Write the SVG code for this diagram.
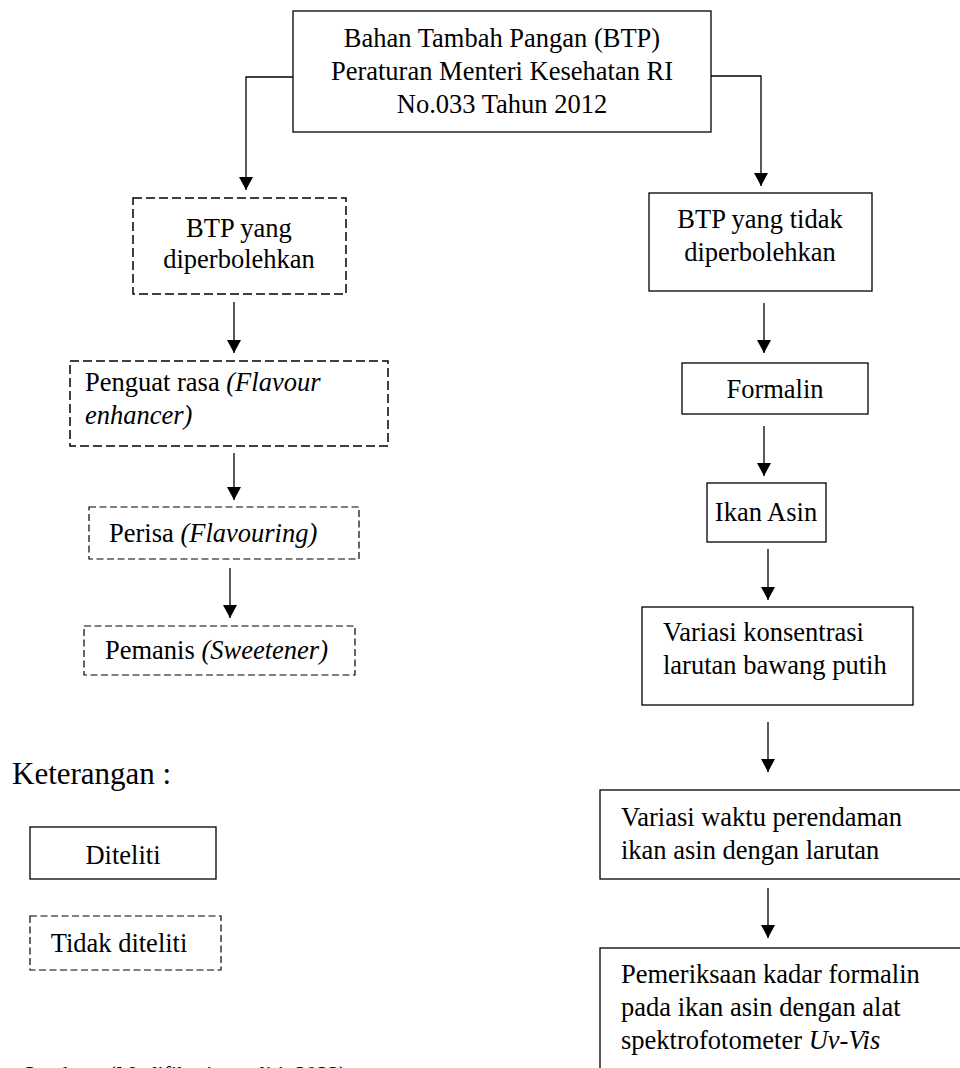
<svg xmlns="http://www.w3.org/2000/svg" width="960" height="1068" viewBox="0 0 960 1068">
<style>
text{font-family:"Liberation Serif","Times New Roman",serif;font-size:26.5px;fill:#000}
.c{text-anchor:middle}
.i{font-style:italic}
.box{fill:#fff;stroke:#000;stroke-width:1.3}
.dash{fill:#fff;stroke:#000;stroke-width:1.5;stroke-dasharray:9 4}
.dash2{fill:#fff;stroke:#000;stroke-width:1.2;stroke-dasharray:7 3.5}
.ln{fill:none;stroke:#000;stroke-width:1.3}
</style>
<defs>
<marker id="ah" markerWidth="15" markerHeight="14" refX="14" refY="7.5" orient="auto" markerUnits="userSpaceOnUse" viewBox="0 0 14 15">
<path d="M0,0 L14,7.5 L0,15 Z" fill="#000"/>
</marker>
</defs>
<rect width="960" height="1068" fill="#fff"/>
<g id="connectors">
<path class="ln" d="M293,77 H246 V190" marker-end="url(#ah)"/>
<path class="ln" d="M711,76 H761 V186" marker-end="url(#ah)"/>
<path class="ln" d="M234,302 V353" marker-end="url(#ah)"/>
<path class="ln" d="M234,453 V500" marker-end="url(#ah)"/>
<path class="ln" d="M230,568 V618" marker-end="url(#ah)"/>
<path class="ln" d="M764,303 V353" marker-end="url(#ah)"/>
<path class="ln" d="M764,426 V476" marker-end="url(#ah)"/>
<path class="ln" d="M768,549 V600" marker-end="url(#ah)"/>
<path class="ln" d="M768,722 V772" marker-end="url(#ah)"/>
<path class="ln" d="M768,888 V938" marker-end="url(#ah)"/>
</g>
<g id="n-btp">
<rect class="box" x="293" y="11" width="418" height="121"/>
<text class="c" x="502" y="47">Bahan Tambah Pangan (BTP)</text>
<text class="c" x="502" y="80">Peraturan Menteri Kesehatan RI</text>
<text class="c" x="502" y="113">No.033 Tahun 2012</text>
</g>
<g id="n-boleh">
<rect class="dash" x="133" y="198" width="213" height="96"/>
<text class="c" x="239" y="237">BTP yang</text>
<text class="c" x="239" y="268">diperbolehkan</text>
</g>
<g id="n-penguat">
<rect class="dash" x="70" y="361" width="318" height="85"/>
<text x="85" y="391">Penguat rasa <tspan class="i">(Flavour</tspan></text>
<text x="85" y="424" class="i">enhancer)</text>
</g>
<g id="n-perisa">
<rect class="dash2" x="89" y="507" width="270" height="52"/>
<text x="109" y="542">Perisa <tspan class="i">(Flavouring)</tspan></text>
</g>
<g id="n-pemanis">
<rect class="dash2" x="84" y="626" width="271" height="49"/>
<text x="105" y="659">Pemanis <tspan class="i">(Sweetener)</tspan></text>
</g>
<g id="n-tidak">
<rect class="box" x="649" y="193" width="223" height="98"/>
<text class="c" x="760" y="228">BTP yang tidak</text>
<text class="c" x="760" y="261">diperbolehkan</text>
</g>
<g id="n-formalin">
<rect class="box" x="682" y="363" width="186" height="51"/>
<text class="c" x="775" y="398">Formalin</text>
</g>
<g id="n-ikan">
<rect class="box" x="707" y="483" width="119" height="59"/>
<text class="c" x="766" y="521">Ikan Asin</text>
</g>
<g id="n-konsentrasi">
<rect class="box" x="642" y="607" width="271" height="98"/>
<text x="663" y="641">Variasi konsentrasi</text>
<text x="663" y="674">larutan bawang putih</text>
</g>
<g id="n-waktu">
<rect class="box" x="600" y="790" width="380" height="89"/>
<text x="621" y="826">Variasi waktu perendaman</text>
<text x="621" y="859">ikan asin dengan larutan</text>
</g>
<g id="n-pemeriksaan">
<rect class="box" x="600" y="948" width="380" height="140"/>
<text x="621" y="983">Pemeriksaan kadar formalin</text>
<text x="621" y="1016">pada ikan asin dengan alat</text>
<text x="621" y="1049">spektrofotometer <tspan class="i">Uv-Vis</tspan></text>
</g>
<g id="legend">
<text x="12" y="784" style="font-size:31px">Keterangan :</text>
<g id="l-diteliti">
<rect class="box" x="30" y="827" width="186" height="52"/>
<text class="c" x="123" y="864">Diteliti</text>
</g>
<g id="l-tidak">
<rect class="dash2" x="30" y="916" width="191" height="54"/>
<text class="c" x="119" y="952">Tidak diteliti</text>
</g>
</g>
<text x="23" y="1081" style="font-size:22px">Sumber : (Modifikasi peneliti, 2022)</text>
</svg>
